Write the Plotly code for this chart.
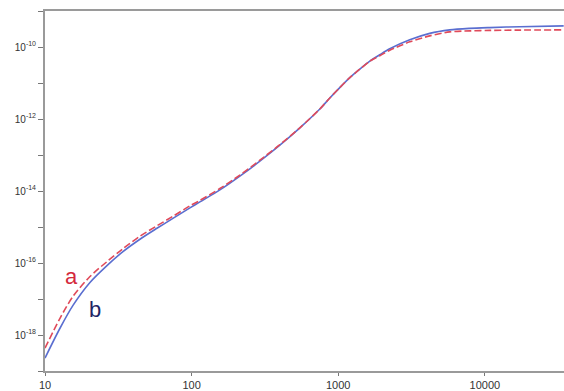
import plotly.graph_objects as go

# Sampled curve values (both axes logarithmic)
x_vals = [10.0, 12.65, 15.52, 20.26, 26.46, 34.02, 44.42, 58.01, 74.56, 97.36,
          113.9, 155.9, 213.4, 292.2, 399.9, 547.4, 749.2, 876.4, 1025, 1200,
          1403, 1642, 1921, 2247, 3077, 4211, 5764, 7890, 10800, 17295, 34500]
b_vals = [2.29e-19, 1.54e-18, 6.65e-18, 2.88e-17, 8.47e-17, 2.07e-16, 4.57e-16, 9.20e-16,
          1.74e-15, 3.39e-15, 4.97e-15, 1.07e-14, 2.59e-14, 6.75e-14, 1.87e-13, 5.68e-13,
          1.90e-12, 3.83e-12, 7.46e-12, 1.41e-11, 2.42e-11, 4.03e-11, 6.09e-11, 8.91e-11,
          1.58e-10, 2.39e-10, 2.99e-10, 3.29e-10, 3.46e-10, 3.66e-10, 3.86e-10]
a_vals = [4.32e-19, 2.91e-18, 1.18e-17, 4.21e-17, 1.09e-16, 2.50e-16, 5.53e-16, 1.08e-15,
          1.98e-15, 3.86e-15, 5.47e-15, 1.17e-14, 2.77e-14, 7.18e-14, 1.93e-13, 5.68e-13,
          1.90e-12, 3.83e-12, 7.46e-12, 1.41e-11, 2.42e-11, 4.03e-11, 5.71e-11, 8.11e-11,
          1.39e-10, 2.04e-10, 2.63e-10, 2.80e-10, 2.89e-10, 2.95e-10, 2.99e-10]

x_ticks = [10, 100, 1000, 10000]
x_tick_text = ["10", "100", "1000", "10000"]
y_major_exp = [-18, -16, -14, -12, -10]
y_minor_exp = [-19, -17, -15, -13, -11, -9]

fig = go.Figure()
fig.add_trace(go.Scatter(x=x_vals, y=b_vals, mode="lines", name="b",
                         line=dict(color="#5a6ed0", width=1.6, shape="spline", smoothing=0.8)))
fig.add_trace(go.Scatter(x=x_vals, y=a_vals, mode="lines", name="a",
                         line=dict(color="#e04a5a", width=1.6, dash="7px,3px",
                                   shape="spline", smoothing=0.8)))

axis_color = "#9a9a9a"
label_font = dict(size=11, color="#333", family="Liberation Sans, Arial")

fig.update_xaxes(type="log", range=[1, 4.54], tickvals=x_ticks, ticktext=x_tick_text,
                 showgrid=False, zeroline=False, showline=True, linecolor=axis_color,
                 linewidth=2, mirror=True, ticks="outside", ticklen=3, tickwidth=1,
                 tickcolor="#777", tickfont=label_font)
fig.update_yaxes(type="log", range=[-19, -9],
                 tickvals=[10.0 ** e for e in y_major_exp],
                 ticktext=[f"10<sup>{e}</sup>" for e in y_major_exp],
                 minor=dict(tickvals=[10.0 ** e for e in y_minor_exp], ticks="outside",
                            ticklen=5, tickwidth=1, tickcolor="#777", showgrid=False),
                 showgrid=False, zeroline=False, showline=True, linecolor=axis_color,
                 linewidth=2, ticks="outside", ticklen=5, tickwidth=1,
                 tickcolor="#777", tickfont=dict(size=10, color="#333",
                                                 family="Liberation Sans, Arial"))

fig.add_annotation(x=1.184, y=-16.38, text="a", showarrow=False,
                   font=dict(size=22, color="#d42a3c", family="Liberation Sans, Arial"))
fig.add_annotation(x=1.341, y=-17.29, text="b", showarrow=False,
                   font=dict(size=22, color="#1f2566", family="Liberation Sans, Arial"))

fig.update_layout(width=564, height=391, showlegend=False,
                  margin=dict(l=45, r=0, t=11, b=18),
                  plot_bgcolor="white", paper_bgcolor="white")

fig.write_html("out.html")
